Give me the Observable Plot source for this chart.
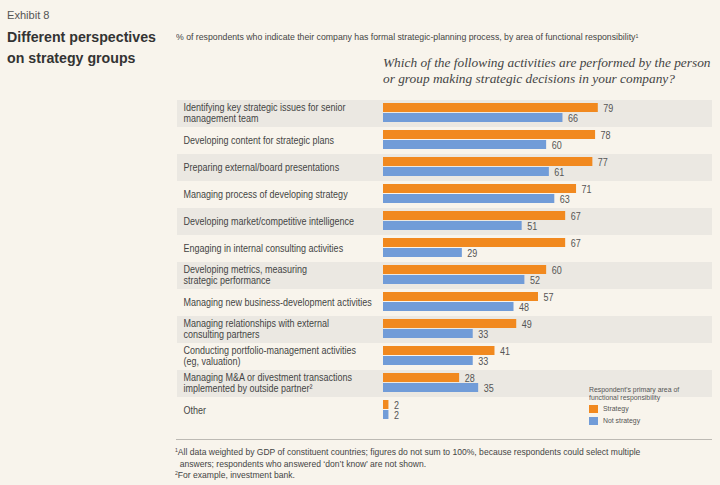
<!DOCTYPE html>
<html>
<head>
<meta charset="utf-8">
<script src="https://cdn.jsdelivr.net/npm/d3@7"></script>
<script src="https://cdn.jsdelivr.net/npm/@observablehq/plot@0.6"></script>
<style>
html, body { margin: 0; padding: 0; background: #f8f4ec; }
#wrap { position: relative; width: 720px; height: 485px; overflow: hidden;
  font-family: "Liberation Sans", Arial, sans-serif; color: #444; }
.abs { position: absolute; white-space: nowrap; transform-origin: 0 0; }
#exhibit { left: 7px; top: 8.3px; font-size: 11.8px; line-height: 14px; color: #555; transform: scaleX(0.94); }
#title { left: 7px; top: 25.7px; font-size: 15.5px; line-height: 21.3px; font-weight: bold; color: #333; transform: scaleX(0.915); }
#subtitle { left: 176px; top: 30.6px; font-size: 9.8px; line-height: 12px; color: #444; transform: scaleX(0.89); }
#question { left: 383px; top: 54.5px; font-family: "Liberation Serif", "DejaVu Serif", serif; font-style: italic; font-size: 13.35px; line-height: 16.5px; color: #444; }
#rule { left: 176px; top: 439px; width: 536px; height: 0; border-top: 1px solid #bdbab4; }
#notes { left: 175px; top: 446px; font-size: 9.8px; line-height: 11.5px; color: #444; transform: scaleX(0.873); }
#legend { left: 589px; top: 386px; font-size: 8px; line-height: 8px; color: #555; }
#legend .t { transform: scaleX(0.86); transform-origin: 0 0; white-space: nowrap; }
.sw { display: inline-block; width: 8.5px; height: 7.5px; margin-right: 5px; flex: none; }
.lrow { height: 12px; display: flex; align-items: center; }
#chart { position: absolute; left: 0; top: 0; }
sup { font-size: 0.6em; vertical-align: top; position: relative; top: -0.15em; }
</style>
</head>
<body>
<div id="wrap">
  <div class="abs" id="exhibit">Exhibit 8</div>
  <div class="abs" id="title">Different perspectives<br>on strategy groups</div>
  <div class="abs" id="subtitle">% of respondents who indicate their company has formal strategic-planning process, by area of functional responsibility<sup>1</sup></div>
  <div class="abs" id="question">Which of the following activities are performed by the person<br>or group making strategic decisions in your company?</div>
  <div id="chart"></div>
  <div class="abs" id="legend"></div>
  <div class="abs" id="rule"></div>
  <div class="abs" id="notes"><sup>1</sup>All data weighted by GDP of constituent countries; figures do not sum to 100%, because respondents could select multiple<br>&nbsp;&nbsp;answers; respondents who answered ‘don’t know’ are not shown.<br><sup>2</sup>For example, investment bank.</div>
</div>
<script>
const categories = [
  "Identifying key strategic issues for senior\nmanagement team",
  "Developing content for strategic plans",
  "Preparing external/board presentations",
  "Managing process of developing strategy",
  "Developing market/competitive intelligence",
  "Engaging in internal consulting activities",
  "Developing metrics, measuring\nstrategic performance",
  "Managing new business-development activities",
  "Managing relationships with external\nconsulting partners",
  "Conducting portfolio-management activities\n(eg, valuation)",
  "Managing M&A or divestment transactions\nimplemented by outside partner²",
  "Other"
];
const strategy    = [79, 78, 77, 71, 67, 67, 60, 57, 49, 41, 28, 2];
const notStrategy = [66, 60, 61, 63, 51, 29, 52, 48, 33, 33, 35, 2];
const seriesNames = ["Strategy", "Not strategy"];
const seriesColors = ["#f1891f", "#719cd8"];
const legendTitle = ["Respondent’s primary area of", "functional responsibility"];

const rows = categories.flatMap((c, i) => [
  {cat: c, series: seriesNames[0], value: strategy[i]},
  {cat: c, series: seriesNames[1], value: notStrategy[i]}
]);
const stripeRows = categories.filter((d, i) => i % 2 === 0);

const LABEL_FILL = "#444", VALUE_FILL = "#555";
const chart = Plot.plot({
  width: 720,
  height: 440,
  marginLeft: 383,
  marginRight: 8,
  marginTop: 97,
  marginBottom: 13,
  x: {domain: [0, 121], axis: null},
  y: {domain: seriesNames, axis: null, paddingInner: 0.09, paddingOuter: 0.3, align: 0.4},
  fy: {domain: categories, axis: null, padding: 0},
  color: {domain: seriesNames, range: seriesColors},
  style: {background: "transparent", fontFamily: "'Liberation Sans', Arial, sans-serif", fontSize: "10px", overflow: "visible"},
  marks: [
    Plot.rect(stripeRows, {fy: d => d, fill: "#ebe8e2", insetLeft: -206}),
    Plot.text(categories, {fy: d => d, text: d => d, frameAnchor: "left", textAnchor: "start", dx: -200, dy: -1.2, lineHeight: 1.1, fill: LABEL_FILL, fontSize: 10.6}),
    Plot.barX(rows, {fy: "cat", y: "series", x: "value", fill: "series"}),
    Plot.text(rows, {fy: "cat", y: "series", x: "value", text: d => String(d.value), dx: 5, textAnchor: "start", fill: VALUE_FILL, fontSize: 11})
  ]
});
// condensed look: horizontally compress each text around its anchor
chart.querySelectorAll("text").forEach(t => {
  const fill = t.parentNode.getAttribute("fill");
  const k = fill === VALUE_FILL ? 0.82 : 0.85;
  t.setAttribute("transform", (t.getAttribute("transform") || "") + ` scale(${k},1)`);
});
document.getElementById("chart").appendChild(chart);

const legend = document.getElementById("legend");
legend.innerHTML =
  legendTitle.map(s => `<div class="t">${s}</div>`).join("") +
  '<div style="height:1px"></div>' +
  seriesNames.map((s, i) => `<div class="lrow"><span class="sw" style="background:${seriesColors[i]}"></span><span class="t">${s}</span></div>`).join("");
</script>
</body>
</html>
